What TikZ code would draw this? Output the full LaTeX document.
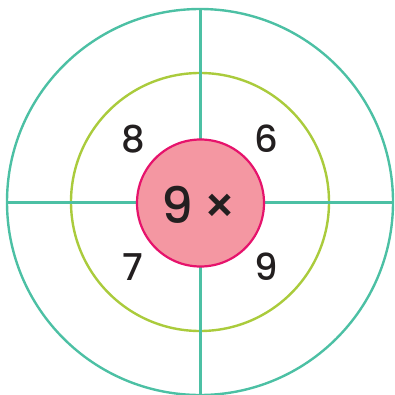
\documentclass[tikz,border=0pt]{standalone}
\usepackage{fontspec}
\setmainfont{Poppins}[UprightFont=* Medium]
\definecolor{teal1}{HTML}{4CC0A4}
\definecolor{lime1}{HTML}{AACB3C}
\definecolor{pinkfill}{HTML}{F497A2}
\definecolor{pinkline}{HTML}{E6136C}
\definecolor{ink}{HTML}{231F20}
\begin{document}
\begin{tikzpicture}[x=1pt,y=-1pt,
  ring/.style={line width=2.4pt},
  num/.style={anchor=base,text=ink,inner sep=0pt,font=\fontsize{37}{37}\selectfont}]
\useasboundingbox (0,0) rectangle (395,395);
\coordinate (c) at (200,202);
\draw[ring,teal1] (c) circle (193);
\draw[ring,lime1] (c) circle (129);
\coordinate (top) at (200,9);
\coordinate (bot) at (200,395);
\coordinate (lft) at (7,202);
\coordinate (rgt) at (393,202);
\draw[teal1,line width=3pt] (top) -- (bot);
\draw[teal1,line width=3pt] (lft) -- (rgt);
\node[circle,draw=pinkline,fill=pinkfill,line width=2.2pt,minimum size=127pt,inner sep=0pt] (hub) at (200.5,203) {};
\node[num] (n8) at (133.5,153) {8};
\node[num] (n6) at (266,153) {6};
\node[num] (n7) at (133,280) {7};
\node[num] (n9) at (266,280) {9};
\node[anchor=base,text=ink,inner sep=0pt,font=\fontsize{50}{50}\selectfont] (ctr) at (199.5,223) {9\,×};
\end{tikzpicture}
\end{document}
